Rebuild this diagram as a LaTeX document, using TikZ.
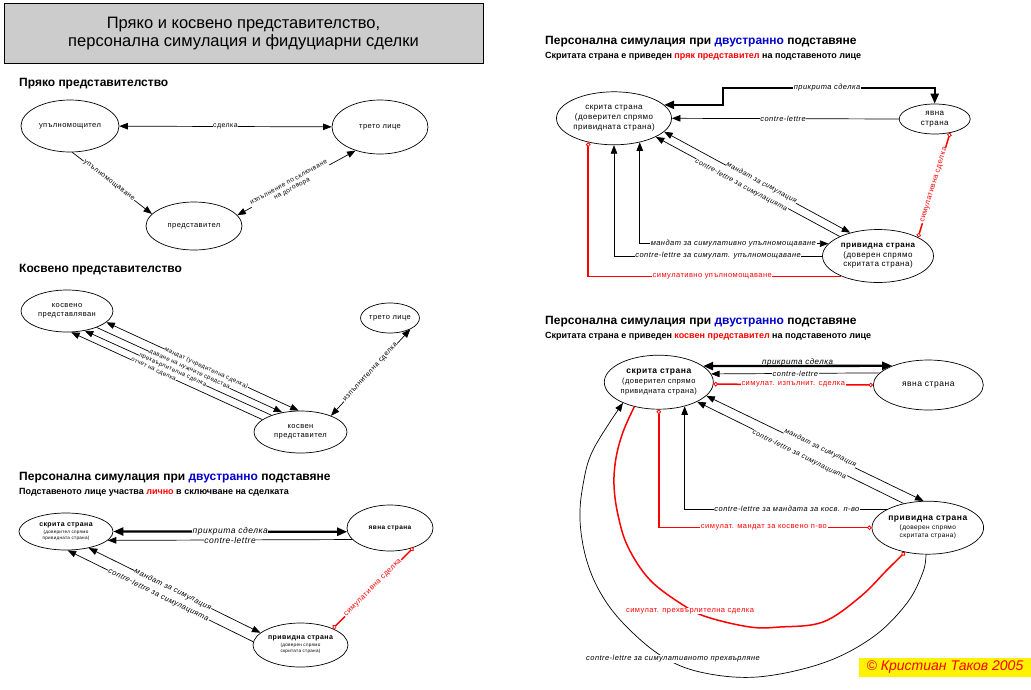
\documentclass[tikz,border=0pt]{standalone}
\usepackage{fontspec}
\setmainfont{Liberation Sans}
\newfontfamily\lsf[LetterSpace=6]{Liberation Sans}
\usetikzlibrary{shapes.geometric,arrows.meta}
\definecolor{myred}{RGB}{255,0,0}
\definecolor{myblue}{RGB}{0,0,204}
\newcommand\tsub[1]{{\fontsize{4.6}{5.5}\selectfont #1}}
\begin{document}
\begin{tikzpicture}[x=1pt,y=-1pt,
  >={Triangle[length=8.5pt,width=6.5pt]},
  oc/.tip={Circle[length=4.5pt,width=4.5pt,fill=white,line width=0.8pt]},
  ell/.style={draw, ellipse, inner sep=0pt, line width=0.7pt, align=center, font=\lsf\fontsize{7.5}{9}\selectfont},
  conn/.style={line width=0.7pt},
  thk/.style={line width=2.3pt, {Triangle[length=10pt,width=8pt]}-{Triangle[length=10pt,width=8pt]}},
  redl/.style={draw=myred, line width=1.5pt},
  lbl/.style={fill=white, inner sep=0.6pt, font=\lsf\fontsize{7}{8}\selectfont, align=center},
  lbls/.style={fill=white, inner sep=0.3pt, font=\lsf\fontsize{6}{7}\selectfont},
  lbli/.style={fill=white, inner sep=0.6pt, font=\lsf\itshape\fontsize{7.5}{9}\selectfont},
  lblt/.style={fill=white, inner sep=0.3pt, font=\lsf\itshape\fontsize{7}{8}\selectfont},
  rlbl/.style={fill=white, inner sep=0.6pt, text=myred, font=\lsf\fontsize{7.5}{9}\selectfont},
  head/.style={anchor=west, inner sep=0pt, font=\bfseries\fontsize{12}{14}\selectfont},
  sub/.style={anchor=west, inner sep=0pt, font=\bfseries\fontsize{9}{11}\selectfont},
]
\useasboundingbox (0,0) rectangle (1031,689);

% title
\node[draw, fill=black!20, line width=0.8pt, minimum width=479pt, minimum height=60pt, inner sep=0pt,
      align=center, font=\fontsize{16.5}{18}\selectfont] (title) at (243.5,33.5)
  {Пряко и косвено представителство,\\персонална симулация и фидуциарни сделки};

% ---------- section 1
\node[head] (h1) at (19,84) {Пряко представителство};
\node[ell, minimum width=98pt, minimum height=52pt] (U) at (70,126) {упълномощител};
\node[ell, minimum width=96pt, minimum height=54pt] (T1) at (380,127) {трето лице};
\node[ell, minimum width=96pt, minimum height=48pt] (P1) at (194,226) {представител};
\draw[conn,<->] (U) -- (T1) node[lbl, midway] (l11) {сделка};
\draw[conn,->] (U.-85) -- (P1.164) node[lbl, sloped, pos=0.46] (l12) {упълномощаване};
\draw[conn,<->] (T1.-136) -- (P1.14) node[lbl, sloped, pos=0.55, font=\lsf\fontsize{6.5}{7}\selectfont] (l13) {изпълнение по сключване\\на договора};

% ---------- section 2
\node[head] (h2) at (19,270) {Косвено представителство};
\node[ell, minimum width=92pt, minimum height=42pt] (KP) at (67,311) {косвено\\представляван};
\node[ell, minimum width=56pt, minimum height=30pt] (T2) at (390,318) {трето лице};
\node[ell, minimum width=93pt, minimum height=42pt] (KR) at (300.5,432) {косвен\\представител};
\draw[conn,<->] (KP.-16.3) -- (KR.95) node[lbls, sloped, pos=0.52] (l21) {мандат (учредителна сделка)};
\draw[conn,->] (KP.-29.9) -- (KR.133) node[lbls, sloped, pos=0.5] (l22) {даване на нужните средства};
\draw[conn,<-] (KP.-48.8) -- (KR.150) node[lbls, sloped, pos=0.47] (l23) {прехвърлителна сделка};
\draw[conn,<-] (KP.-79.5) -- (KR.162) node[lbls, sloped, pos=0.43] (l24) {отчет на сделка};
\draw[conn,<->] (KR.28.7) -- (T2.-29) node[lbl, sloped, midway] (l25) {изпълнителна сделка};

% ---------- section 3
\node[head] (h3) at (19,478) {Персонална симулация при \textcolor{myblue}{двустранно} подставяне};
\node[sub] (s3) at (19,492) {Подставеното лице участва \textcolor{myred}{лично} в сключване на сделката};
\node[ell, minimum width=94pt, minimum height=37pt, font=\lsf\fontsize{4.6}{6}\selectfont] (S3) at (66,531.5)
  {{\bfseries\fontsize{7}{8}\selectfont скрита страна}\\[1pt]\tsub{(доверител спрямо}\\\tsub{привидната страна)}};
\node[ell, minimum width=86pt, minimum height=46pt, font=\lsf\bfseries\fontsize{6.5}{8}\selectfont] (Y3) at (390,528) {явна страна};
\node[ell, minimum width=95pt, minimum height=44pt, font=\lsf\fontsize{4.6}{6}\selectfont] (P3) at (300.5,645)
  {{\bfseries\fontsize{7}{8}\selectfont привидна страна}\\[1pt]\tsub{(доверен спрямо}\\\tsub{скритата страна)}};
\draw[thk] (S3.east) -- (Y3.-175) node[lbli, midway, font=\lsf\itshape\fontsize{8.5}{10}\selectfont] (l31) {прикрита сделка};
\draw[conn,->] (Y3.-163) -- (S3.-12) node[lbli, midway, font=\lsf\itshape\fontsize{8.5}{10}\selectfont] (l32) {contre-lettre};
\draw[conn,<->] (S3.-36.6) -- (P3.163.4) node[lbli, sloped, pos=0.49] (l33) {мандат за симулация};
\draw[conn,<-] (S3.-85) -- (P3.176.5) node[lbli, sloped, pos=0.49] (l34) {contre-lettre за симулацията};
\draw[redl, oc-oc] (Y3.-40) -- (P3.27.5) node[rlbl, sloped, midway] (l35) {симулативна сделка};

% ---------- section 4 (top right)
\node[head] (h4) at (545,42) {Персонална симулация при \textcolor{myblue}{двустранно} подставяне};
\node[sub] (s4) at (545,56) {Скритата страна е приведен \textcolor{myred}{пряк представител} на подставеното лице};
\node[ell, minimum width=113pt, minimum height=53pt, font=\lsf\fontsize{8}{10}\selectfont] (S4) at (614,118.3)
  {скрита страна\\(доверител спрямо\\привидната страна)};
\node[ell, minimum width=71pt, minimum height=30pt, font=\lsf\fontsize{8}{10}\selectfont] (Y4) at (934.7,119) {явна\\страна};
\node[ell, minimum width=111pt, minimum height=53pt, font=\lsf\fontsize{8}{9.5}\selectfont] (P4) at (878,256)
  {{\bfseries привидна страна}\\(доверен спрямо\\скритата страна)};
\draw[thk] (S4.15) -| (723,88) -| (Y4.north);
\node[lbli] (l41) at (827,88) {прикрита сделка};
\draw[conn,->] (Y4.west) -- (S4.east) node[lbli, pos=0.51] (l42) {contre-lettre};
\draw[conn,<->] (S4.-15.7) -- (P4.140) node[lblt, sloped, pos=0.52, yshift=1.5pt] (l43) {мандат за симулация};
\draw[conn,<-] (S4.-24.1) -- (P4.153.4) node[lblt, sloped, pos=0.47, yshift=-2pt] (l44) {contre-lettre за симулацията};
\draw[conn,<->] (S4.-43.8) |- (P4.166.3) node[lbli, pos=0.748] (l45) {мандат за симулативно упълномощаване};
\draw[conn,->] (P4.west) -| (S4.south) node[lbli, pos=0.25] (l46) {contre-lettre за симулат. упълномощаване};
\draw[redl, oc-] (S4.-137.7) |- (P4.-151.3) node[rlbl, pos=0.745] (l47) {симулативно упълномощаване};
\draw[redl, oc-oc] (Y4.-42.3) -- (P4.25.4) node[rlbl, sloped, midway] (l48) {симулативна сделка};

% ---------- section 5 (bottom right)
\node[head] (h5) at (545,322) {Персонална симулация при \textcolor{myblue}{двустранно} подставяне};
\node[sub] (s5) at (545,336) {Скритата страна е приведен \textcolor{myred}{косвен представител} на подставеното лице};
\node[ell, minimum width=109pt, minimum height=54pt, font=\lsf\fontsize{7.5}{10}\selectfont] (S5) at (658.8,382.2)
  {{\bfseries\fontsize{8.5}{10}\selectfont скрита страна}\\(доверител спрямо\\привидната страна)};
\node[ell, minimum width=110pt, minimum height=50pt, font=\lsf\fontsize{8.5}{10}\selectfont] (Y5) at (928.3,385) {явна страна};
\node[ell, minimum width=109pt, minimum height=53pt, font=\lsf\fontsize{6.5}{8}\selectfont] (P5) at (927.8,527.7)
  {{\bfseries\fontsize{8.5}{10}\selectfont привидна страна}\\[1pt](доверен спрямо\\скритата страна)};
\draw[thk] (S5.20.3) -- (Y5.152) node[lbli, fill=none, midway, above=-1.5pt, font=\lsf\itshape\fontsize{8}{9}\selectfont] (l51) {прикрита сделка};
\draw[conn,->] (Y5.166.5) -- (S5.9.8) node[lbli, midway] (l52) {contre-lettre};
\draw[redl, oc-oc] (S5.-2.9) -- (Y5.west) node[rlbl, midway] (l53) {симулат. изпълнит. сделка};
\draw[conn,<->] (S5.-16.3) -- (P5.99.2) node[lblt, sloped, pos=0.52, yshift=2.5pt] (l54) {мандат за симулация};
\draw[conn,<-] (S5.-27.3) -- (P5.135) node[lblt, sloped, pos=0.5, yshift=-2.5pt] (l55) {contre-lettre за симулацията};
\draw[conn,->] (P5.155) -| (S5.-43.3) node[lbli, pos=0.248] (l56) {contre-lettre за мандата за косв. п-во};
\draw[redl, oc-oc] (S5.south) |- (P5.west) node[rlbl, pos=0.747] (l57) {симулат. мандат за косвено п-во};
\draw[redl, -oc] plot[smooth, tension=0.6] coordinates {(S5.-135.6) (623,432) (616,458) (614,485) (618,515) (628,547) (650,580) (683,605) (707,617) (750,627) (780,627) (823,622) (860,597) (887,570) (P5.-133.4)};
\node[rlbl] (l58) at (690,611) {симулат. прехвърлителна сделка};
\draw[conn,->] plot[smooth, tension=0.6] coordinates {(P5.-94) (923,572) (907,603) (873,637) (823,663) (757,677) (700,672) (660,655) (623,623) (600,592) (586,558) (580,520) (583,485) (593,450) (S5.-150)};
\node[lbli] (l59) at (673,659) {contre-lettre за симулативното прехвърляне};

% copyright
\node[fill=yellow, text=myred, inner sep=0pt, minimum width=172pt, minimum height=19pt,
      font=\itshape\fontsize{14}{16}\selectfont] (copy) at (945,667.5) {© Кристиан Таков 2005};
\end{tikzpicture}
\end{document}
